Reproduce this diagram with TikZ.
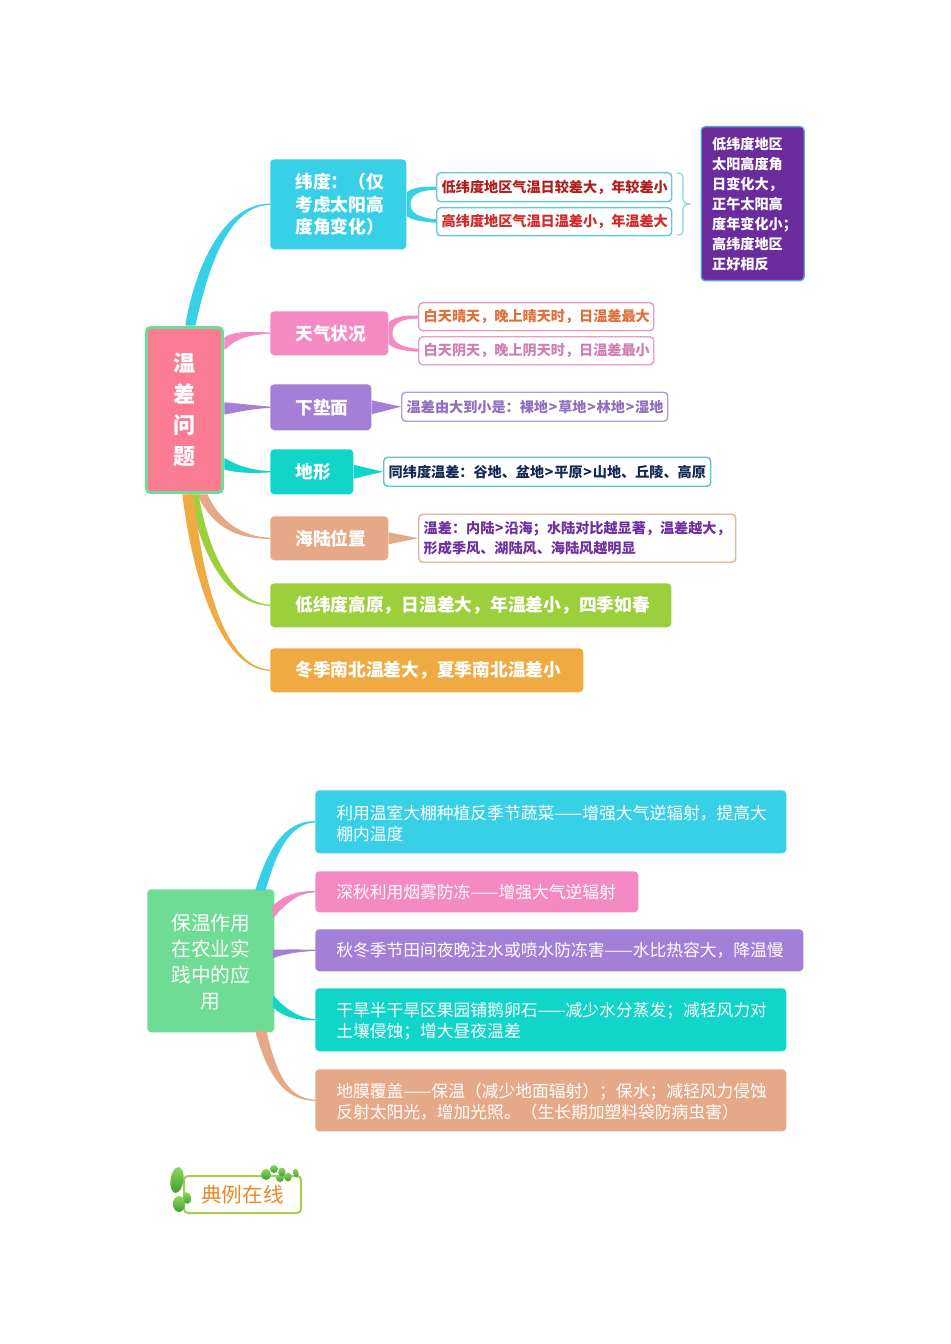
\documentclass[tikz,border=0pt]{standalone}
\usepackage{fontspec}
\setmainfont{Noto Sans CJK SC}
\usetikzlibrary{calc,shapes.geometric}
\definecolor{cCyan}{HTML}{38D0E6}
\definecolor{cPink}{HTML}{F58AC2}
\definecolor{cPurple}{HTML}{A47FD8}
\definecolor{cTeal}{HTML}{10D5C8}
\definecolor{cSalmon}{HTML}{E5A987}
\definecolor{cLime}{HTML}{9CCF3C}
\definecolor{cOrange}{HTML}{EFAB42}
\definecolor{cRoot}{HTML}{F97C93}
\definecolor{cGreen}{HTML}{6FDC96}
\definecolor{cViolet}{HTML}{6A2C9C}
\definecolor{cLeafA}{HTML}{8FD65A}
\definecolor{cLeafB}{HTML}{3E9E30}
% colour, start 1, start 2, controls out, end, controls back
\newcommand{\taper}[8]{\filldraw[fill=#1,draw=#1,line width=0.9pt,line join=round] #2 .. controls #4 and #5 .. #6 .. controls #7 and #8 .. #3 -- cycle;}
\newcommand{\gtm}{\kern0.6pt>\kern0.6pt}
\newcommand{\lowerfirst}{\rule{0pt}{1.05em}}
\tikzset{
  x=0.75pt,y=-0.75pt,
  bx/.style n args={3}{anchor=north west,minimum width=#1*0.75pt,minimum height=#2*0.75pt,
    rounded corners=3pt,inner ysep=0pt,inner xsep=#3*0.75pt,align=left,text width=#1*0.75pt-2*#3*0.75pt},
  mainbox/.style={text=white,font=\bfseries\fontsize{13.3pt}{16.8pt}\selectfont},
  subbox/.style={fill=white,line width=1.1pt,font=\bfseries\fontsize{10.6pt}{15pt}\selectfont},
  appbox/.style={text=white,font=\fontsize{12.58pt}{15.9pt}\selectfont},
  leaf/.style={top color=cLeafA,bottom color=cLeafB,draw=none},
}
\begin{document}
\begin{tikzpicture}
\useasboundingbox (0,0) rectangle (950,1344);
\fill[white] (0,0) rectangle (950,1344);

% upper map nodes
\node[bx={76}{165}{0},fill=cRoot,draw=cGreen,line width=2.2pt,text=white,font=\bfseries\fontsize{16.5pt}{23.1pt}\selectfont,align=center] (root) at (145,326) {温\\差\\问\\题};
\node[bx={136}{90}{25},fill=cCyan,mainbox] (wd) at (270,159) {纬度：（仅\\考虑太阳高\\度角变化）};
\node[bx={118}{44}{25},fill=cPink,mainbox] (tq) at (270,311) {天气状况};
\node[bx={101}{46}{25},fill=cPurple,mainbox] (xd) at (270,384) {下垫面};
\node[bx={83}{45}{25},fill=cTeal,mainbox] (dx) at (270,449) {地形};
\node[bx={118}{44}{25},fill=cSalmon,mainbox] (hl) at (270,516) {海陆位置};
\node[bx={401}{44}{25},fill=cLime,mainbox] (dw) at (270,583) {\mbox{低纬度高原，日温差大，年温差小，四季如春}};
\node[bx={313}{44}{25},fill=cOrange,mainbox] (dj) at (270,648) {\mbox{冬季南北温差大，夏季南北温差小}};

\node[bx={235}{29}{5},subbox,draw={rgb,255:red,108;green,199;blue,213},text={rgb,255:red,176;green,30;blue,30}] (wa) at (436,172) {\mbox{低纬度地区气温日较差大，年较差小}};
\node[bx={235}{28}{5},subbox,draw={rgb,255:red,108;green,199;blue,213},text={rgb,255:red,208;green,42;blue,42}] (wb) at (436,207) {\mbox{高纬度地区气温日温差小，年温差大}};
\node[bx={235}{28}{5},subbox,draw={rgb,255:red,233;green,155;blue,201},text={rgb,255:red,224;green,112;blue,58}] (ta) at (418,302) {\mbox{白天晴天，晚上晴天时，日温差最大}};
\node[bx={235}{28}{5},subbox,draw={rgb,255:red,233;green,155;blue,201},text={rgb,255:red,208;green,127;blue,181}] (tb) at (418,336) {\mbox{白天阴天，晚上阴天时，日温差最小}};
\node[bx={266}{29}{5},subbox,draw={rgb,255:red,178;green,155;blue,216},text={rgb,255:red,142;green,111;blue,192}] (xa) at (401,391.5) {\mbox{温差由大到小是：裸地\gtm 草地\gtm 林地\gtm 湿地}};
\node[bx={327}{29}{5},subbox,draw={rgb,255:red,92;green,198;blue,200},text={rgb,255:red,18;green,42;blue,85}] (da) at (383,456.5) {\mbox{同纬度温差：谷地、盆地\gtm 平原\gtm 山地、丘陵、高原}};
\node[bx={317}{48}{5},subbox,draw={rgb,255:red,229;green,180;blue,154},text={rgb,255:red,110;green,48;blue,160}] (ha) at (418,513.5) {\mbox{温差：内陆\gtm 沿海；水陆对比越显著，温差越大，}\\\mbox{形成季风、湖陆风、海陆风越明显}};
\node[bx={103}{154}{11},fill=cViolet,draw={rgb,255:red,90;green,165;blue,216},line width=1pt,text=white,font=\bfseries\fontsize{10.6pt}{15pt}\selectfont] (pp) at (700.5,126) {低纬度地区\\太阳高度角\\日变化大，\\正午太阳高\\度年变化小；\\高纬度地区\\正好相反};

% upper connectors
\taper{cCyan}{($(root.north west)+(41,-1)$)}{($(root.north west)+(50,-1)$)}{(196,265)}{(225,204)}{(wd.west)}{(227,205)}{(207,270)}
\taper{cPink}{($(root.east)+(1,-72)$)}{($(root.east)+(1,-61)$)}{(232,332)}{(250,332)}{(tq.west)}{(250,334)}{(237,337)}
\taper{cPurple}{($(root.east)+(1,-7)$)}{($(root.east)+(1,4)$)}{(238,404)}{(255,406)}{(xd.west)}{(255,408)}{(238,411)}
\taper{cTeal}{($(root.east)+(1,49)$)}{($(root.east)+(1,59)$)}{(240,468)}{(255,471)}{(dx.west)}{(250,473)}{(235,472)}
\taper{cSalmon}{($(root.south west)+(53,1)$)}{($(root.south west)+(62,1)$)}{(215,530)}{(240,538)}{(hl.west)}{(243,537.5)}{(220,523)}
\taper{cLime}{($(root.south west)+(45,1)$)}{($(root.south west)+(53,1)$)}{(205,570)}{(235,604)}{(dw.west)}{(238,604)}{(210,565)}
\taper{cOrange}{($(root.south west)+(38,1)$)}{($(root.south west)+(48,1)$)}{(195,590)}{(225,669)}{(dj.west)}{(227,668)}{(203,592)}

% forks
\fill[cCyan] ($(wd.east)+(0,-12)$) .. controls (414,187) and (425,186) .. ($(wa.west)+(0,-0.5)$) -- ($(wa.west)+(0,2.5)$) .. controls (420,190) and (410,195) .. ($(wd.east)+(4,0)$) .. controls (410,213) and (420,218) .. ($(wb.west)+(0,-2.5)$) -- ($(wb.west)+(0,1)$) .. controls (425,222) and (414,221) .. ($(wd.east)+(0,12)$) -- cycle;
\fill[cPink] ($(tq.east)+(0,-11)$) .. controls (396,316) and (407,315) .. ($(ta.west)+(0,-1)$) -- ($(ta.west)+(0,2)$) .. controls (402,318) and (392,324) .. ($(tq.east)+(4,0)$) .. controls (392,342) and (402,348) .. ($(tb.west)+(0,-2)$) -- ($(tb.west)+(0,1)$) .. controls (407,351) and (396,350) .. ($(tq.east)+(0,11)$) -- cycle;
\fill[cPurple] ($(xd.east)+(0,-7)$) -- (xa.west) -- ($(xd.east)+(0,7)$) -- cycle;
\fill[cTeal] ($(dx.east)+(0,-7)$) -- (da.west) -- ($(dx.east)+(0,7)$) -- cycle;
\fill[cSalmon] ($(hl.east)+(0,-6)$) -- (ha.west) -- ($(hl.east)+(0,6)$) -- cycle;

% brace
\coordinate (brtop) at (677,173);
\coordinate (brbot) at (677,235);
\coordinate (brtip) at (691,204);
\draw[draw={rgb,255:red,127;green,212;blue,223},line width=0.8pt,line cap=round] (brtop) .. controls (682,173) and (683,175) .. (683,179) -- (683,198) .. controls (683,202) and (685,204) .. (brtip) .. controls (685,204) and (683,206) .. (683,210) -- (683,229) .. controls (683,233) and (682,235) .. (brbot);

% lower map
\node[bx={127}{143}{0},fill=cGreen,text=white,font=\fontsize{14.8pt}{19.5pt}\selectfont,align=center] (rt) at (147,889) {\rule{0pt}{1em}保温作用\\在农业实\\践中的应\\用};
\node[bx={471}{63}{21},fill=cCyan,appbox] (ba) at (315,790) {\mbox{\lowerfirst 利用温室大棚种植反季节蔬菜——增强大气逆辐射，提高大}\\棚内温度};
\node[bx={323}{41}{21},fill=cPink,appbox] (bb) at (315,871) {\mbox{深秋利用烟雾防冻——增强大气逆辐射}};
\node[bx={488}{42}{21},fill=cPurple,appbox] (bc) at (315,929) {\mbox{秋冬季节田间夜晚注水或喷水防冻害——水比热容大，降温慢}};
\node[bx={471}{63}{21},fill=cTeal,appbox] (bd) at (315,988) {\mbox{\lowerfirst 干旱半干旱区果园铺鹅卵石——减少水分蒸发；减轻风力对}\\土壤侵蚀；增大昼夜温差};
\node[bx={471}{62}{21},fill=cSalmon,appbox] (be) at (315,1069) {\mbox{\lowerfirst 地膜覆盖——保温（减少地面辐射）；保水；减轻风力侵蚀}\\\mbox{反射太阳光，增加光照。（生长期加塑料袋防病虫害）}};

\taper{cCyan}{($(rt.north west)+(109,1)$)}{($(rt.north west)+(118,1)$)}{(268,850)}{(285,821)}{(ba.west)}{(288,823)}{(275,855)}
\taper{cPink}{($(rt.north east)+(-1,17)$)}{($(rt.north east)+(-1,28)$)}{(285,895)}{(300,891)}{(bb.west)}{(303,892)}{(290,897)}
\taper{cPurple}{($(rt.east)+(-1,-10.5)$)}{($(rt.east)+(-1,-3.5)$)}{(285,950)}{(300,950)}{(bc.west)}{(300,951)}{(285,953)}
\taper{cTeal}{($(rt.east)+(-1,35.5)$)}{($(rt.east)+(-1,46.5)$)}{(285,1010)}{(300,1019)}{(bd.west)}{(298,1020)}{(285,1017)}
\taper{cSalmon}{($(rt.south west)+(109,-1)$)}{($(rt.south west)+(119,-1)$)}{(268,1075)}{(285,1100)}{(be.west)}{(288,1099)}{(276,1075)}

% logo
\node[bx={117}{37}{0},draw={rgb,255:red,168;green,204;blue,80},line width=1.5pt,fill=white,align=center,text={rgb,255:red,232;green,137;blue,43},font=\fontsize{15.4pt}{18pt}\selectfont] (logo) at (183,1175) {典例在线};
\foreach \lx/\ly/\la/\lb/\lr in {177/1180/6.5/13/-8,187/1198/4/6/10,179/1204/6/8/0,
  266/1174.5/5/5.5/0,274/1169/4/4/0,280/1178/4/4/0,282/1172/3.5/4.5/0,288/1177/3.5/4.5/0,296/1173/2.5/4.5/10}
  \shade[leaf,rotate around={\lr:(\lx,\ly)}] (\lx,\ly) ellipse [x radius=\la,y radius=\lb];
\end{tikzpicture}
\end{document}
